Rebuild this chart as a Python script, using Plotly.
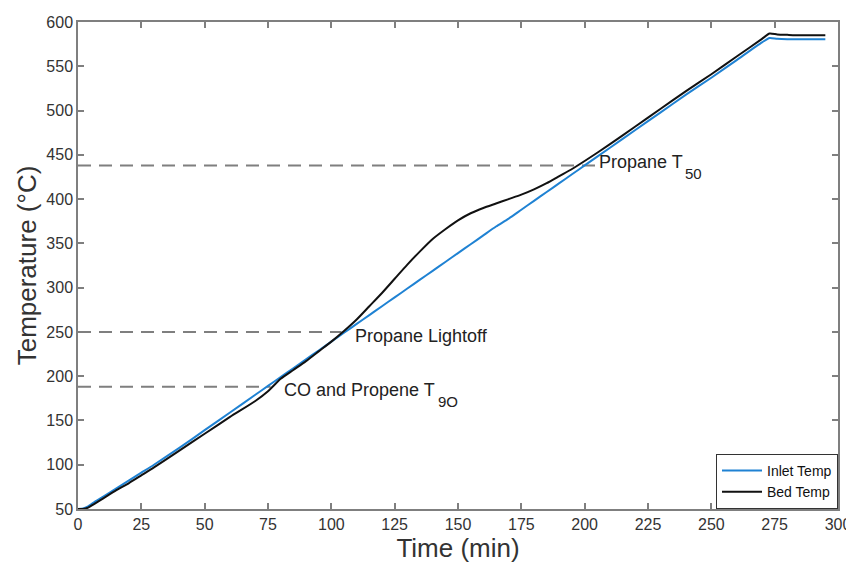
import plotly.graph_objects as go

# Time (min)
time = [0, 2, 4, 6, 10, 15, 20, 25, 30, 40, 50, 60, 70, 75, 80, 85, 90, 95, 100, 105, 110,
        115, 120, 125, 130, 135, 140, 145, 150, 155, 160, 165, 170, 175, 180, 185, 190, 195,
        200, 210, 220, 230, 240, 250, 260, 270, 273, 276, 280, 285, 290, 295]

inlet_temp = [50, 50.5, 53, 57, 64, 73, 82, 91, 100, 119, 139, 159, 179, 189, 199, 209, 219,
              229, 239, 249, 259, 269, 279, 289, 299, 309, 319, 329, 339, 349, 359, 369, 378,
              388, 398, 408, 418, 428, 438, 458, 478, 498, 518, 537, 557, 577, 582, 581, 580.5,
              580.5, 580.5, 580.5]

bed_temp = [50, 50, 51.5, 55, 62, 71, 79, 88, 97, 116, 135, 154, 172, 183, 197, 207, 217,
            228, 239, 251, 264, 279, 294, 310, 326, 341, 355, 366, 376, 384, 390, 395, 400,
            405, 411, 418, 426, 434, 443, 462, 482, 502, 522, 541, 561, 581, 587, 586, 585.5,
            585, 585, 585]

# Reference levels (°C) and where their dashed guides end (min)
ref_levels = [438, 250, 188]
ref_ends = [205, 104, 76]

# Annotation texts: main part and subscript part
ref_labels = ["Propane T", "Propane Lightoff", "CO and Propene T"]
ref_subs = ["50", "", "9O"]
label_x = [205, 108.6, 80.4]
label_y = [442, 245.5, 184.5]

x_ticks = list(range(0, 301, 25))
y_ticks = list(range(50, 601, 50))

FONT = "Liberation Sans, Arial"

fig = go.Figure()

for lvl, end in zip(ref_levels, ref_ends):
    fig.add_shape(type="line", x0=0, x1=end, y0=lvl, y1=lvl, xref="x", yref="y",
                  line=dict(color="#7f7f7f", width=2, dash="13px,8px"), layer="below")

fig.add_trace(go.Scatter(x=time, y=inlet_temp, mode="lines", name="Inlet Temp",
                         line=dict(color="#1f82d3", width=2, shape="spline", smoothing=0.6)))
fig.add_trace(go.Scatter(x=time, y=bed_temp, mode="lines", name="Bed Temp",
                         line=dict(color="#111111", width=2, shape="spline", smoothing=0.6)))

sub_shift = [86, 0, 154]
for txt, sub, lx, ly, sh in zip(ref_labels, ref_subs, label_x, label_y, sub_shift):
    fig.add_annotation(x=lx, y=ly, text=txt, showarrow=False, xanchor="left", yanchor="middle",
                       font=dict(family=FONT, size=18, color="#222222"))
    if sub:
        fig.add_annotation(x=lx, y=ly, text=sub, showarrow=False, xanchor="left",
                           yanchor="middle", xshift=sh, yshift=-12,
                           font=dict(family=FONT, size=15, color="#222222"))

axis_common = dict(showgrid=False, zeroline=False, showline=True, linecolor="#7f7f7f",
                   linewidth=1.5, mirror="ticks", ticks="inside", ticklen=6, tickwidth=1.5,
                   tickcolor="#7f7f7f", automargin=False,
                   tickfont=dict(family=FONT, size=16, color="#333333"))

fig.update_xaxes(range=[0, 300], tickvals=x_ticks, ticktext=[str(v) for v in x_ticks],
                 title=dict(text="Time (min)", standoff=7,
                            font=dict(family=FONT, size=26, color="#333333")),
                 **axis_common)
fig.update_yaxes(range=[50, 600], tickvals=y_ticks, ticktext=[str(v) for v in y_ticks],
                 title=dict(text="Temperature (°C)", standoff=2,
                            font=dict(family=FONT, size=26, color="#333333")),
                 **axis_common)

# The page body adds an 8px margin, so the figure is sized to fit the 854x573 window.
fig.update_layout(
    width=846, height=565,
    margin=dict(l=70, r=16, t=14, b=64),
    paper_bgcolor="white", plot_bgcolor="white",
    showlegend=True,
    legend=dict(x=1, y=0, xanchor="right", yanchor="bottom",
                bgcolor="white", bordercolor="#333333", borderwidth=1,
                font=dict(family=FONT, size=14, color="#111111"),
                itemwidth=40, tracegroupgap=0),
)

fig.write_html("out.html")
